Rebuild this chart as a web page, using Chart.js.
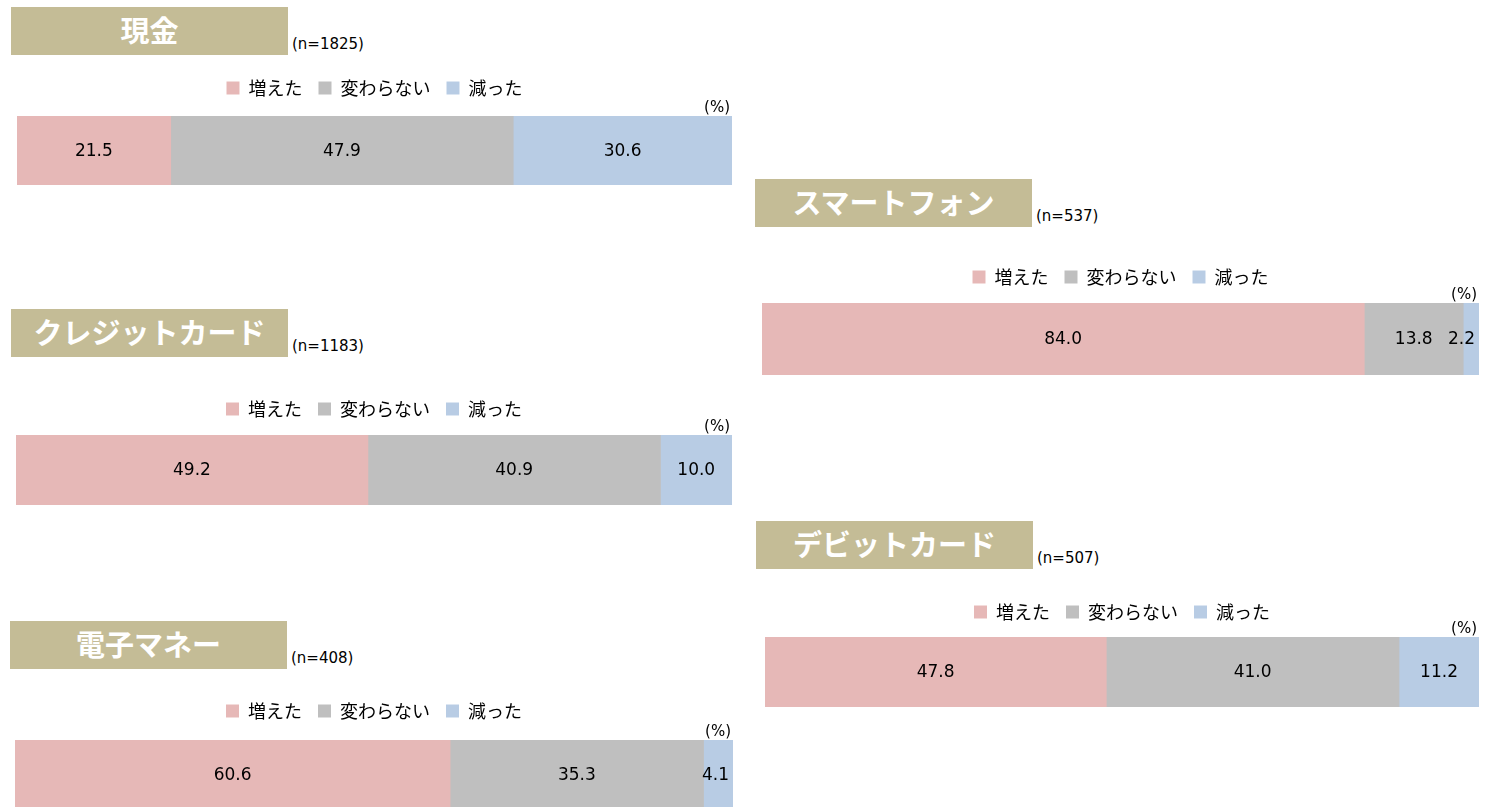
<!DOCTYPE html>
<html>
<head>
<meta charset="utf-8">
<script src="https://cdn.jsdelivr.net/npm/chart.js@4.4.1/dist/chart.umd.min.js"></script>
<style>
body { margin: 0; background: #fff; width: 1490px; height: 807px; position: relative; overflow: hidden;
       font-family: "DejaVu Sans", "Noto Sans CJK JP", sans-serif; color: #000; }
.title { position: absolute; width: 277px; height: 48px; box-sizing: border-box; padding-bottom: 4px;
         background: #C4BC96; color: #fff;
         font: bold 29px "Noto Sans CJK JP", sans-serif; display: flex; align-items: center; justify-content: center; }
.n { position: absolute; font-size: 15px; line-height: 16px; white-space: nowrap; }
.pct { position: absolute; font-size: 15px; line-height: 16px; text-align: right; z-index: 2; }
canvas { position: absolute; }
</style>
</head>
<body>
<script>
// 各決済手段の利用の変化 (%)
const titles = ['現金', 'クレジットカード', '電子マネー', 'スマートフォン', 'デビットカード'];
const sampleSizes = [1825, 1183, 408, 537, 507];
const seriesNames = ['増えた', '変わらない', '減った'];
const increased = [21.5, 49.2, 60.6, 84.0, 47.8];
const unchanged = [47.9, 40.9, 35.3, 13.8, 41.0];
const decreased = [30.6, 10.0, 4.1, 2.2, 11.2];

const colors = ['#E6B8B7', '#BFBFBF', '#B8CCE4'];

// パネルの配置 (gap = 凡例中心から棒の上端まで)
const panels = [
    { x: 17,  w: 715, barTop: 116, barH: 69, boxX: 11,  boxY: 7,   gap: 28 },
    { x: 16,  w: 716, barTop: 435, barH: 70, boxX: 11,  boxY: 309, gap: 26 },
    { x: 15,  w: 718, barTop: 740, barH: 70, boxX: 10,  boxY: 621, gap: 29 },
    { x: 762, w: 717, barTop: 303, barH: 72, boxX: 755, boxY: 179, gap: 26 },
    { x: 765, w: 714, barTop: 637, barH: 70, boxX: 756, boxY: 521, gap: 25 }
];

const legendFont = 18;
const legendPad = 16;
const legendH = 44;      // 凡例の高さ
const legendMid = 25;    // キャンバス上端から凡例中心まで

// 値ラベル
const valueLabels = {
    id: 'valueLabels',
    afterDatasetsDraw(chart) {
        const ctx = chart.ctx;
        const area = chart.chartArea;
        ctx.save();
        ctx.font = '17px "DejaVu Sans"';
        ctx.fillStyle = '#000';
        ctx.textAlign = 'center';
        ctx.textBaseline = 'middle';
        chart.data.datasets.forEach((ds, i) => {
            chart.getDatasetMeta(i).data.forEach((bar, j) => {
                const text = ds.data[j].toFixed(1);
                const w = ctx.measureText(text).width;
                let x = (bar.base + bar.x) / 2;
                if (x + w / 2 > area.right - 4) x = area.right - 4 - w / 2;
                ctx.fillText(text, x, bar.y + 1);
            });
        });
        ctx.restore();
    }
};

function el(cls, text, style) {
    const d = document.createElement('div');
    d.className = cls;
    d.textContent = text;
    Object.assign(d.style, style);
    document.body.appendChild(d);
    return d;
}

titles.forEach((title, i) => {
    const p = panels[i];
    el('title', title, { left: p.boxX + 'px', top: p.boxY + 'px' });
    el('n', '(n=' + sampleSizes[i] + ')', { left: (p.boxX + 281) + 'px', top: (p.boxY + 29) + 'px' });
    el('pct', '(%)', { left: (p.x + p.w - 62) + 'px', width: '60px', top: (p.barTop - 17) + 'px' });

    const spacer = p.gap - (legendH - legendMid);
    const canvas = document.createElement('canvas');
    canvas.width = p.w;
    canvas.height = legendH + spacer + p.barH;
    canvas.style.left = p.x + 'px';
    canvas.style.top = (p.barTop - legendH - spacer) + 'px';
    document.body.appendChild(canvas);

    const values = [increased[i], unchanged[i], decreased[i]];
    const total = values.reduce((a, b) => a + b, 0);

    new Chart(canvas, {
        type: 'bar',
        data: {
            labels: [title],
            datasets: seriesNames.map((name, k) => ({
                label: name,
                data: [values[k]],
                backgroundColor: colors[k],
                borderWidth: 0,
                barPercentage: 1,
                categoryPercentage: 1
            }))
        },
        options: {
            indexAxis: 'y',
            responsive: false,
            animation: false,
            devicePixelRatio: 1,
            layout: { padding: 0 },
            scales: {
                x: { stacked: true, min: 0, max: Math.max(100, total), display: false },
                y: { stacked: true, display: false }
            },
            plugins: {
                legend: {
                    position: 'top',
                    align: 'center',
                    labels: {
                        boxWidth: 13,
                        boxHeight: 13,
                        padding: legendPad,
                        color: '#000',
                        font: { size: legendFont, family: '"Noto Sans CJK JP", sans-serif' }
                    }
                },
                // 凡例と棒の間の余白
                subtitle: {
                    display: true,
                    text: '',
                    weight: 500,
                    font: { size: 1, lineHeight: 1 },
                    padding: { top: 0, bottom: Math.max(0, spacer - 1) }
                },
                tooltip: { enabled: false }
            }
        },
        plugins: [valueLabels]
    });
});
</script>
</body>
</html>
